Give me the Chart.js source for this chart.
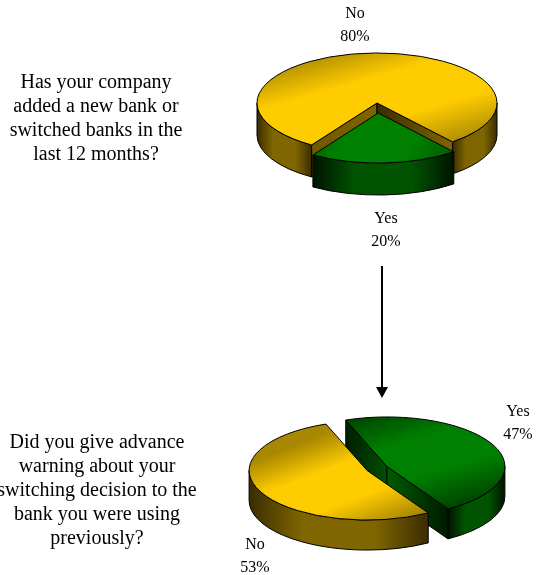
<!DOCTYPE html>
<html>
<head>
<meta charset="utf-8">
<title>Bank switching survey</title>
<script src="https://cdn.jsdelivr.net/npm/chart.js@4/dist/chart.umd.js"></script>
<style>
  html, body { margin: 0; padding: 0; background: #fff; overflow: hidden; }
  #page { position: relative; width: 536px; height: 575px; overflow: hidden; }
  canvas { position: absolute; left: 0; top: 0; }
  .question {
    position: absolute; text-align: center; white-space: nowrap;
    font: 20px/24px "Liberation Serif", serif; color: #000;
    transform: translateX(-50%);
  }
  svg { position: absolute; left: 0; top: 0; }
</style>
</head>
<body>
<div id="page">
  <canvas id="upper" width="536" height="575"></canvas>
  <canvas id="lower" width="536" height="575"></canvas>
  <div class="question" style="left:96px;top:69px">Has your company<br>added a new bank or<br>switched banks in the<br>last 12 months?</div>
  <div class="question" style="left:97px;top:429px">Did you give advance<br>warning about your<br>switching decision to the<br>bank you were using<br>previously?</div>
  <svg width="536" height="575">
    <line x1="382" y1="266" x2="382" y2="388" stroke="#000" stroke-width="2"/>
    <polygon points="376,387 388,387 382,398" fill="#000"/>
  </svg>
</div>
<script>
// Survey answers, in percent
const upperLabels = ['No', 'Yes'];
const upperValues = [80, 20];
const lowerLabels = ['Yes', 'No'];
const lowerValues = [47, 53];

const YELLOW = {
  bright: '#FFCC00', dark: '#a88800', wall: '#806600', wallDark: '#3a2d00',
  cutLeft: ['#6e5800', '#806600'], cutRight: ['#3a2d00', '#806600']
};
const GREEN = {
  bright: '#008000', dark: '#004a00', wall: '#005400', wallDark: '#001400',
  cutLeft: ['#001e00', '#005000'], cutRight: ['#005c00', '#001a00']
};

// Draws a pie slice tilted into perspective: side walls first, then the
// slice itself through the stock arc element, squashed vertically.
class TiltedArc extends Chart.ArcElement {
  static id = 'tiltedArc';

  draw(ctx) {
    const { dataset, dataIndex } = this.$context;
    const tilt = dataset.tilt;
    const pull = dataset.pull[dataIndex];
    const palette = dataset.palette[dataIndex];
    const { x, y, startAngle, endAngle, outerRadius: r } = this.getProps(
      ['x', 'y', 'startAngle', 'endAngle', 'outerRadius']);
    const mid = (startAngle + endAngle) / 2;
    const cx = x + Math.cos(mid) * pull;
    const cy = y + Math.sin(mid) * pull * tilt;
    const ry = r * tilt;
    const depth = dataset.depth;
    const pt = a => [cx + Math.cos(a) * r, cy + Math.sin(a) * ry];

    const wallFill = (x0, x1, stops) => {
      const g = ctx.createLinearGradient(x0, 0, x1, 0);
      stops.forEach(([t, c]) => g.addColorStop(t, c));
      return g;
    };
    ctx.save();
    ctx.strokeStyle = '#000';
    ctx.lineWidth = 1;
    ctx.lineJoin = 'round';

    // Curved outer wall: only the part of the rim on the near side shows.
    for (let k = -1; k <= 1; k++) {
      const a0 = Math.max(startAngle, 2 * Math.PI * k);
      const a1 = Math.min(endAngle, 2 * Math.PI * k + Math.PI);
      if (a1 <= a0) continue;
      const [xa] = pt(a1), [xb] = pt(a0);
      ctx.beginPath();
      ctx.ellipse(cx, cy, r, ry, 0, a0, a1);
      ctx.ellipse(cx, cy + depth, r, ry, 0, a1, a0, true);
      ctx.closePath();
      ctx.fillStyle = wallFill(Math.min(xa, xb), Math.max(xa, xb), [
        [0, palette.wallDark], [0.3, palette.wall], [0.7, palette.wall], [1, palette.wallDark]]);
      ctx.fill();
      ctx.stroke();
    }

    // Flat cut faces along the two radii, when they face the viewer.
    const faces = [[startAngle, -Math.cos(startAngle)], [endAngle, Math.cos(endAngle)]];
    faces.forEach(([a, facing]) => {
      if (facing <= 0) return;
      const [ex, ey] = pt(a);
      ctx.beginPath();
      ctx.moveTo(cx, cy);
      ctx.lineTo(ex, ey);
      ctx.lineTo(ex, ey + depth);
      ctx.lineTo(cx, cy + depth);
      ctx.closePath();
      const [c0, c1] = ex > cx ? palette.cutRight : palette.cutLeft;
      ctx.fillStyle = wallFill(Math.min(cx, ex), Math.max(cx, ex), [[0, c0], [1, c1]]);
      ctx.fill();
      ctx.stroke();
    });

    // Top face
    ctx.save();
    ctx.translate(cx, cy);
    ctx.scale(1, tilt);
    ctx.translate(-x, -y);
    super.draw(ctx);
    ctx.restore();

    ctx.beginPath();
    ctx.moveTo(cx, cy);
    ctx.ellipse(cx, cy, r, ry, 0, startAngle, endAngle);
    ctx.closePath();
    ctx.stroke();
    ctx.restore();
  }
}

class TiltedPieController extends Chart.PieController {
  static id = 'tiltedPie';
  static defaults = { dataElementType: 'tiltedArc' };
}
Chart.register(TiltedArc, TiltedPieController);

// Face shading runs between two points given relative to the slice apex.
function faceFill(context) {
  const { chart, dataset, dataIndex } = context;
  const area = chart.chartArea;
  if (!area) return dataset.palette[dataIndex].bright;
  const cx = (area.left + area.right) / 2;
  const cy = (area.top + area.bottom) / 2;
  const [x0, y0, x1, y1] = dataset.shade[dataIndex];
  const p = dataset.palette[dataIndex];
  const g = chart.ctx.createLinearGradient(cx + x0, cy + y0, cx + x1, cy + y1);
  g.addColorStop(0, p.dark);
  g.addColorStop(0.32, p.bright);
  g.addColorStop(0.66, p.bright);
  g.addColorStop(1, p.dark);
  return g;
}

// Answer captions are written from the chart's own labels and values.
const captions = {
  id: 'captions',
  afterDatasetsDraw(chart, args, opts) {
    const { ctx, data } = chart;
    ctx.save();
    ctx.font = '16px "Liberation Serif", serif';
    ctx.fillStyle = '#000';
    ctx.textAlign = 'center';
    ctx.textBaseline = 'alphabetic';
    opts.spots.forEach(([px, py], i) => {
      ctx.fillText(data.labels[i], px, py);
      ctx.fillText(data.datasets[0].data[i] + '%', px, py + 22.5);
    });
    ctx.restore();
  }
};

function tiltedPie(id, labels, values, geom) {
  const W = 536, H = 575, half = 100;
  const top = Math.max(0, geom.cy - Math.min(geom.cy, H - geom.cy));
  const bottom = H - (2 * geom.cy - top);
  return new Chart(document.getElementById(id), {
    type: 'tiltedPie',
    plugins: [captions],
    data: {
      labels,
      datasets: [{
        data: values,
        radius: geom.radius,
        tilt: geom.tilt,
        depth: geom.depth,
        pull: geom.pull,
        palette: geom.palette,
        shade: geom.shade,
        clip: false,
        backgroundColor: faceFill,
        borderWidth: 0
      }]
    },
    options: {
      responsive: false,
      animation: false,
      rotation: geom.rotation,
      layout: { padding: { left: geom.cx - half, right: W - geom.cx - half, top, bottom } },
      plugins: {
        legend: { display: false },
        tooltip: { enabled: false },
        captions: { spots: geom.spots }
      }
    }
  });
}

tiltedPie('upper', upperLabels, upperValues, {
  cx: 377, cy: 103, radius: 120, tilt: 0.417, depth: 32,
  rotation: 213,
  pull: [0, 24],
  palette: [YELLOW, GREEN],
  shade: [[-75, -115, 75, 105], [-90, 40, 100, 90]],
  spots: [[355, 18], [386, 223]]
});

tiltedPie('lower', lowerLabels, lowerValues, {
  cx: 377, cy: 468.5, radius: 118, tilt: 0.42, depth: 30,
  rotation: -20.4,
  pull: [11, 11],
  palette: [GREEN, YELLOW],
  shade: [[-35, -107, 88, 74], [-82, -52, 55, 100]],
  spots: [[518, 416], [255, 549]]
});
</script>
</body>
</html>
